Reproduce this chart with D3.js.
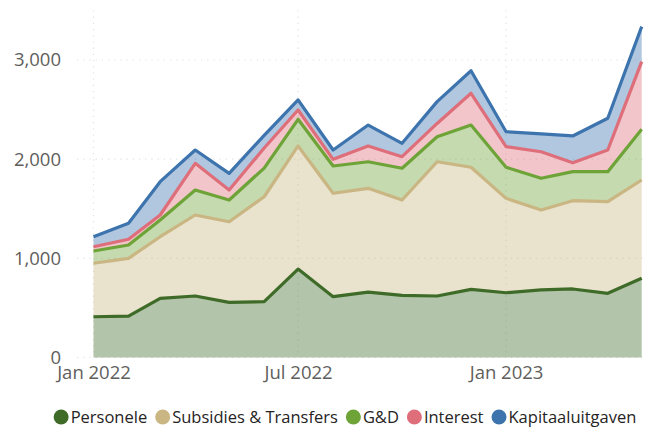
<!DOCTYPE html>
<html><head><meta charset="utf-8">
<script src="https://cdn.jsdelivr.net/npm/d3@7"></script>
<style>
html,body{margin:0;padding:0;background:#fff;}
svg{display:block;font-family:"Open Sans","Segoe UI",sans-serif;}
</style></head>
<body><svg id="c" width="648" height="427"></svg>
<script>
const months = ["2022-01","2022-02","2022-03","2022-04","2022-05","2022-06","2022-07","2022-08","2022-09","2022-10","2022-11","2022-12","2023-01","2023-02","2023-03","2023-04","2023-05"];
const seriesNames = ["Personele","Subsidies & Transfers","G&D","Interest","Kapitaaluitgaven"];
const personele = [411,418,597,620,556,563,892,613,660,627,620,687,653,681,691,647,799];
const subsidies = [539,582,621,817,813,1058,1241,1043,1046,961,1354,1231,952,806,890,924,991];
const gd = [124,134,169,252,219,289,269,275,268,320,252,426,313,320,293,303,511];
const interest = [43,58,50,269,101,202,94,67,159,117,134,320,208,268,90,218,682];
const kapitaal = [101,161,336,134,168,128,101,94,211,135,220,228,151,179,270,320,353];
const yTicks = [0,1000,2000,3000];
const xTickLabels = ["Jan 2022","Jul 2022","Jan 2023"];
const colors = ["#3f6b29","#c9b682","#6da337","#de6e7a","#3d74ae"];

const parse = d3.timeParse("%Y-%m");
const table = months.map((m,i)=>({date:parse(m),"Personele":personele[i],"Subsidies & Transfers":subsidies[i],"G&D":gd[i],"Interest":interest[i],"Kapitaaluitgaven":kapitaal[i]}));
const stacked = d3.stack().keys(seriesNames)(table);

const svg = d3.select("#c");
const x = d3.scaleTime().domain(d3.extent(table,d=>d.date)).range([93.5,641.7]);
const y = d3.scaleLinear().domain([0,3500]).range([357.5,10.4]);

// grid
const g = svg.append("g");
g.selectAll(".hg").data(yTicks).join("line")
 .attr("x1",77).attr("x2",646).attr("y1",d=>y(d)).attr("y2",d=>y(d))
 .attr("stroke","#e1e1e1").attr("stroke-width",1.2).attr("stroke-dasharray","1.2,5");
const xTickDates = xTickLabels.map(s=>d3.timeParse("%b %Y")(s));
g.selectAll(".vg").data(xTickDates).join("line")
 .attr("x1",d=>x(d)).attr("x2",d=>x(d)).attr("y1",y(3500)).attr("y2",y(0))
 .attr("stroke","#e1e1e1").attr("stroke-width",1.2).attr("stroke-dasharray","1.2,5");

const area = d3.area().x(d=>x(d.data.date)).y0(d=>y(d[0])).y1(d=>y(d[1]));
const line = d3.line().x(d=>x(d.data.date)).y(d=>y(d[1]));
svg.append("g").selectAll("path").data(stacked).join("path")
 .attr("d",area).attr("fill",(d,i)=>colors[i]).attr("fill-opacity",0.4);
svg.append("g").selectAll("path").data(stacked).join("path")
 .attr("d",line).attr("fill","none").attr("stroke",(d,i)=>colors[i]).attr("stroke-width",3.2).attr("stroke-linejoin","round");

// axes
const yAxis = d3.axisLeft(y).tickValues(yTicks).tickFormat(d3.format(",")).tickSize(0).tickPadding(0);
const ya = svg.append("g").attr("transform","translate(61,0)").call(yAxis);
ya.select(".domain").remove();
ya.selectAll("text").attr("fill","#605e5c").attr("font-size",18.5).attr("font-family","Open Sans, sans-serif");
const xAxis = d3.axisBottom(x).tickValues(xTickDates).tickFormat(d3.timeFormat("%b %Y")).tickSize(0).tickPadding(0);
const xa = svg.append("g").attr("transform","translate(0,366)").call(xAxis);
xa.select(".domain").remove();
xa.selectAll("text").attr("fill","#605e5c").attr("font-size",18.5).attr("font-family","Open Sans, sans-serif");

// legend
const leg = svg.append("g");
let cx = 0;
seriesNames.forEach((n,i)=>{
  const it = leg.append("g");
  it.append("circle").attr("r",7.5).attr("cx",7.5).attr("cy",0).attr("fill",colors[i]);
  const t = it.append("text").attr("x",17).attr("y",0).attr("dy","0.35em").attr("font-size",16.5).attr("fill","#252423").text(n);
  const w = 17 + t.node().getComputedTextLength();
  it.attr("transform",`translate(${cx},417)`);
  cx += w + 8;
});
const total = cx - 8;
leg.attr("transform",`translate(${(45+645-total)/2},0)`);
</script></body></html>
